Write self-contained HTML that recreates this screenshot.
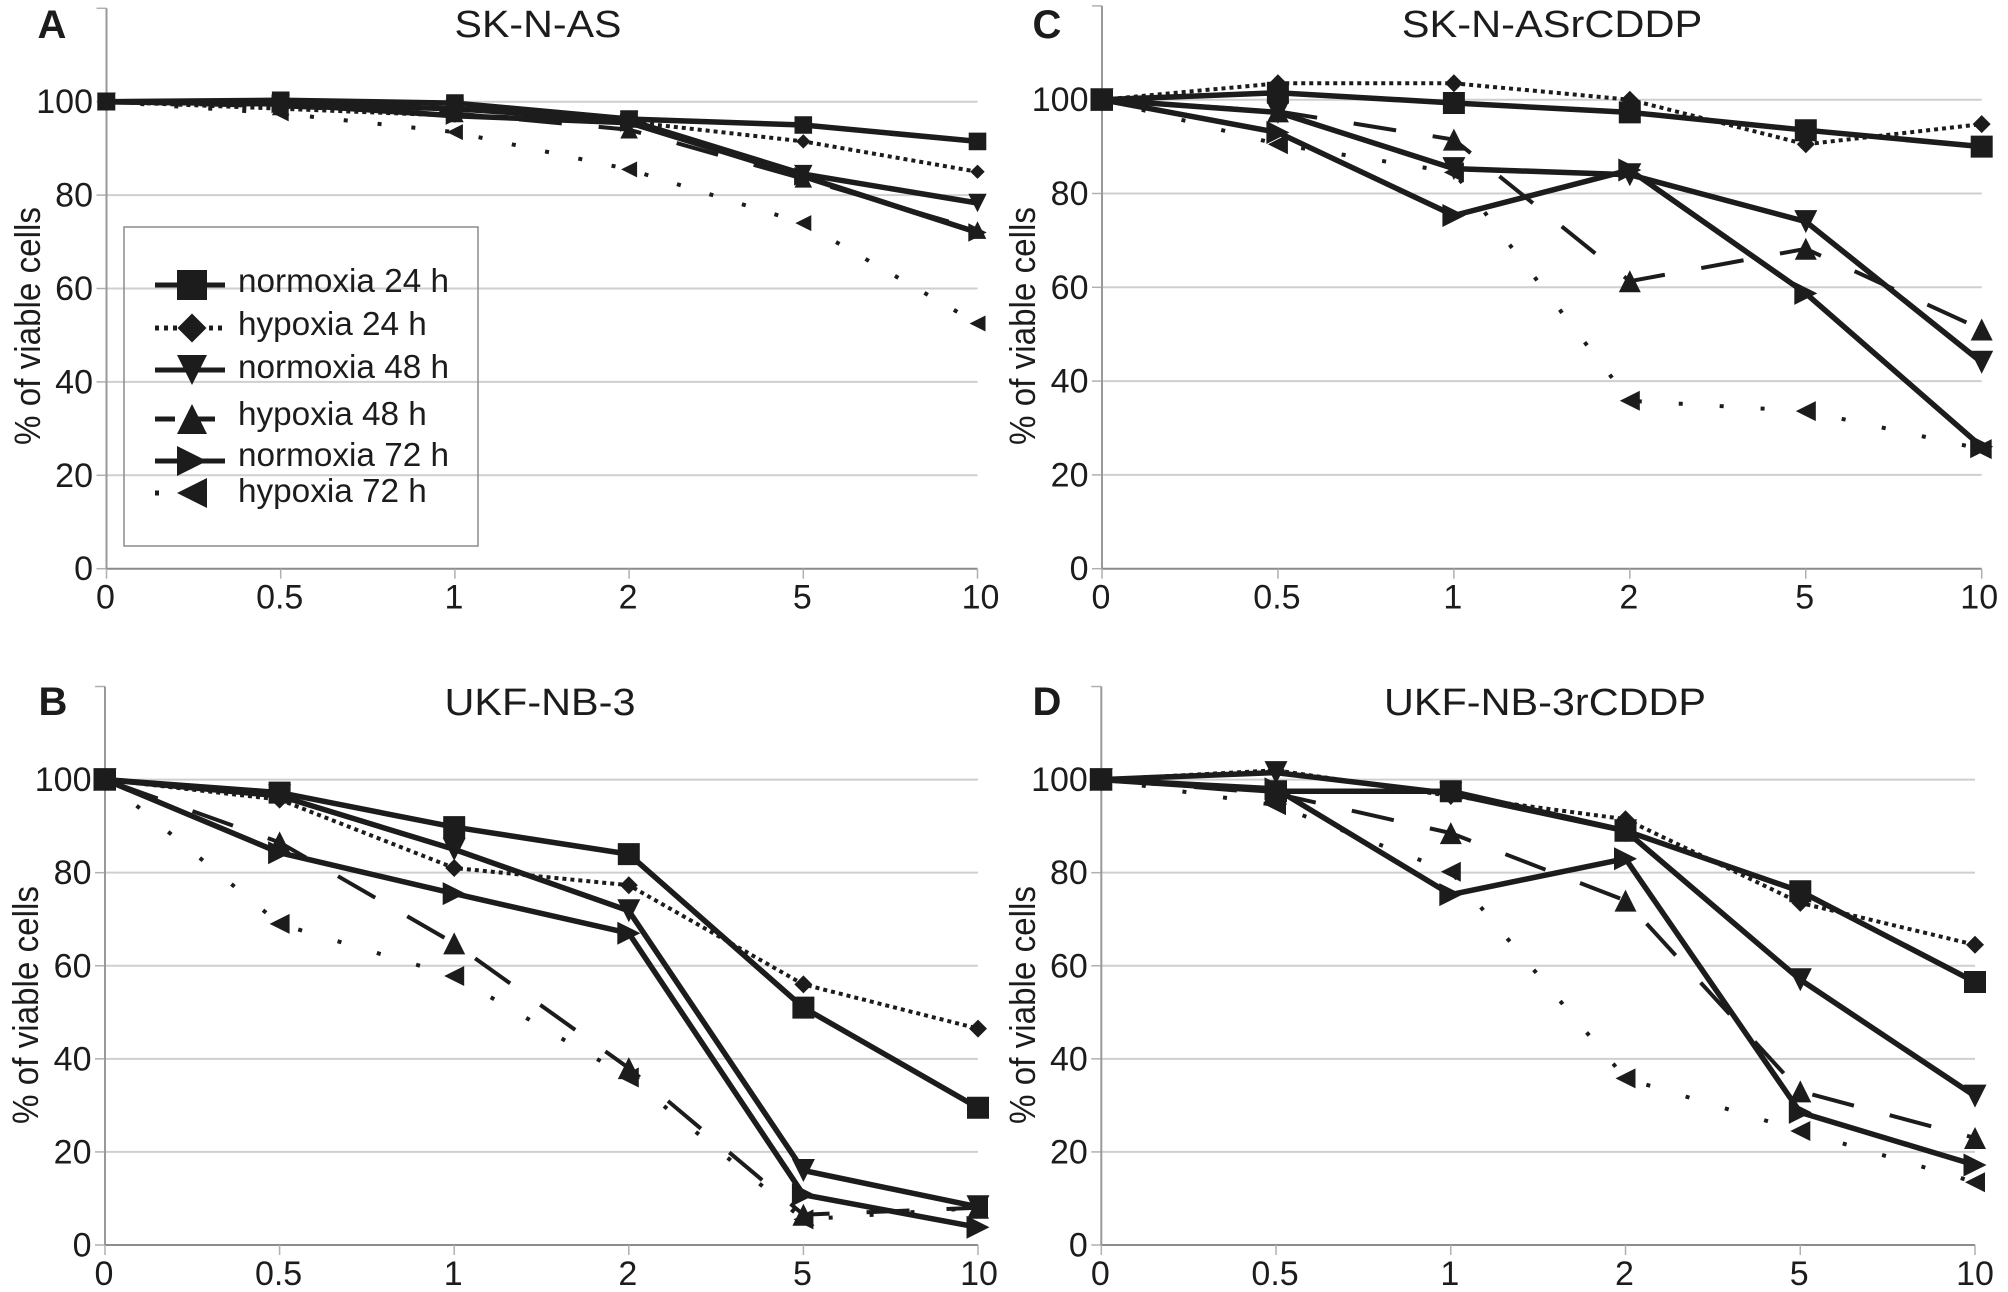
<!DOCTYPE html>
<html lang="en">
<head>
<meta charset="utf-8">
<title>Viability of neuroblastoma cell lines under normoxia and hypoxia</title>
<style>
html,body{margin:0;padding:0;background:#fff;}
svg{display:block;}
text{font-family:"Liberation Sans",sans-serif;fill:#1c1c1c;}
</style>
</head>
<body>
<svg id="figure" xmlns="http://www.w3.org/2000/svg" width="2008" height="1292" viewBox="0 0 2008 1292"></svg>
<script>
const categories = ['0', '0.5', '1', '2', '5', '10'];
const yTickLabels = [0, 20, 40, 60, 80, 100];
const yAxisMax = [120];
const seriesNames = ['normoxia 24 h', 'hypoxia 24 h', 'normoxia 48 h', 'hypoxia 48 h', 'normoxia 72 h', 'hypoxia 72 h'];

const panelA_normoxia24 = [100, 100.3, 99.7, 96.3, 95, 91.5];
const panelA_hypoxia24 = [100, 98.5, 97, 95.7, 91.5, 85];
const panelA_normoxia48 = [100, 99.5, 98.5, 96, 84.5, 78.3];
const panelA_hypoxia48 = [100, 99, 97.5, 94, 83.5, 72.5];
const panelA_normoxia72 = [100, 99.5, 97, 95.5, 84, 72];
const panelA_hypoxia72 = [100, 97.5, 93.5, 85.5, 74, 52.5];

const panelB_normoxia24 = [100, 97.2, 89.8, 84, 51, 29.5];
const panelB_hypoxia24 = [100, 95.7, 81, 77.3, 56, 46.5];
const panelB_normoxia48 = [100, 96.5, 85, 71.8, 16, 8.2];
const panelB_hypoxia48 = [100, 86.5, 64.8, 38, 6.5, 8];
const panelB_normoxia72 = [100, 84.3, 75.5, 67, 10.8, 3.8];
const panelB_hypoxia72 = [100, 69, 57.8, 36, 5.5, 8];

const panelC_normoxia24 = [100, 101.5, 99.3, 97.3, 93.5, 90];
const panelC_hypoxia24 = [100, 103.5, 103.5, 100, 90.5, 94.8];
const panelC_normoxia48 = [100, 97.3, 85.3, 84, 74, 44];
const panelC_hypoxia48 = [100, 97.5, 91.5, 61.3, 68.2, 51];
const panelC_normoxia72 = [100, 93, 75.3, 85, 58.7, 26];
const panelC_hypoxia72 = [100, 90.5, 84.5, 35.8, 33.6, 25.5];

const panelD_normoxia24 = [100, 97.5, 97.5, 89, 76, 56.5];
const panelD_hypoxia24 = [100, 102, 96.5, 91.5, 73.5, 64.5];
const panelD_normoxia48 = [100, 101.5, 97, 89, 57, 32];
const panelD_hypoxia48 = [100, 97, 88.5, 74, 33, 23];
const panelD_normoxia72 = [100, 98, 75.3, 83, 28.5, 17.2];
const panelD_hypoxia72 = [100, 94.5, 80.2, 35.8, 24.5, 13.5];

const svg = document.getElementById('figure');
const NS = 'http://www.w3.org/2000/svg';
const INK = '#1c1c1c';

const seriesStyles = [
  {slug: 'normoxia-24h', marker: 'square', size: 22, width: 5.5, dash: '', offset: 0},
  {slug: 'hypoxia-24h', marker: 'diamond', size: 18, width: 4, dash: '4 4', offset: 0},
  {slug: 'normoxia-48h', marker: 'down', size: 23, width: 5.5, dash: '', offset: 0},
  {slug: 'hypoxia-48h', marker: 'up', size: 22, width: 4, dash: '43 37', offset: 67},
  {slug: 'normoxia-72h', marker: 'right', size: 23, width: 5.5, dash: '', offset: 0},
  {slug: 'hypoxia-72h', marker: 'left', size: 20, width: 4, dash: 'sparse', offset: 0}
];

const panels = [
  {slug: 'a', letter: 'A', title: 'SK-N-AS', titleWidth: 167, left: 106.5, right: 977.5, base: 568.7, full: 101.7, titleX: 538, titleY: 37, letterX: 52, letterY: 38, axisTitleX: 40, axisTitleY: 326, lastLabelShift: 3, markerScale: 0.8, sparseDash: '4 30',
   series: [panelA_normoxia24, panelA_hypoxia24, panelA_normoxia48, panelA_hypoxia48, panelA_normoxia72, panelA_hypoxia72]},
  {slug: 'c', letter: 'C', title: 'SK-N-ASrCDDP', titleWidth: 300.5, left: 1102, right: 1981.7, base: 568.7, full: 99.7, titleX: 1552, titleY: 37, letterX: 1047, letterY: 38, axisTitleX: 1035, axisTitleY: 326, lastLabelShift: -2.5, markerScale: 1, sparseDash: '4 37',
   series: [panelC_normoxia24, panelC_hypoxia24, panelC_normoxia48, panelC_hypoxia48, panelC_normoxia72, panelC_hypoxia72]},
  {slug: 'b', letter: 'B', title: 'UKF-NB-3', titleWidth: 191, left: 105, right: 978, base: 1245, full: 779.6, titleX: 540, titleY: 715, letterX: 53, letterY: 715, axisTitleX: 38, axisTitleY: 1005, lastLabelShift: 1, markerScale: 1, sparseDash: '4 37',
   series: [panelB_normoxia24, panelB_hypoxia24, panelB_normoxia48, panelB_hypoxia48, panelB_normoxia72, panelB_hypoxia72]},
  {slug: 'd', letter: 'D', title: 'UKF-NB-3rCDDP', titleWidth: 322, left: 1101.3, right: 1975, base: 1245, full: 779.6, titleX: 1545, titleY: 715, letterX: 1047, letterY: 715, axisTitleX: 1035, axisTitleY: 1005, lastLabelShift: 0, markerScale: 1, sparseDash: '4 37',
   series: [panelD_normoxia24, panelD_hypoxia24, panelD_normoxia48, panelD_hypoxia48, panelD_normoxia72, panelD_hypoxia72]}
];

function make(tag, parent, attrs) {
  const el = document.createElementNS(NS, tag);
  for (const key in attrs) el.setAttribute(key, attrs[key]);
  parent.appendChild(el);
  return el;
}

function markerPoints(kind, cx, cy, size) {
  const h = size / 2;
  if (kind === 'square') return [[cx - h, cy - h], [cx + h, cy - h], [cx + h, cy + h], [cx - h, cy + h]];
  if (kind === 'diamond') return [[cx, cy - h], [cx + h, cy], [cx, cy + h], [cx - h, cy]];
  if (kind === 'down') return [[cx - h, cy - h], [cx + h, cy - h], [cx, cy + h]];
  if (kind === 'up') return [[cx - h, cy + h], [cx + h, cy + h], [cx, cy - h]];
  if (kind === 'right') return [[cx - h, cy - h], [cx + h, cy], [cx - h, cy + h]];
  return [[cx + h, cy - h], [cx - h, cy], [cx + h, cy + h]];
}

function pointsAttr(points) {
  return points.map(function (p) { return p[0].toFixed(1) + ',' + p[1].toFixed(1); }).join(' ');
}

function drawPanel(panel) {
  const xScale = function (i) { return panel.left + i * (panel.right - panel.left) / (categories.length - 1); };
  const yScale = function (v) { return panel.base - v * (panel.base - panel.full) / 100; };

  const group = make('g', svg, {});
  
  

  yTickLabels.forEach(function (tick) {
    const y = yScale(tick);
    if (tick > 0) {
      const grid = make('line', group, {x1: panel.left, x2: panel.right, y1: y, y2: y, stroke: '#cfcfcf', 'stroke-width': 2});
      
      
    }
    const yTick = make('line', group, {x1: panel.left - 10, x2: panel.left, y1: y, y2: y, stroke: '#b0b0b0', 'stroke-width': 1.5});
    
    
    const yLabel = make('text', group, {x: panel.left - 13.5, y: y + 11.5, 'text-anchor': 'end', 'font-size': 34});
    yLabel.textContent = tick;
    
    
  });

  const topTick = make('line', group, {x1: panel.left - 10, x2: panel.left, y1: yScale(yAxisMax[0]), y2: yScale(yAxisMax[0]), stroke: '#b0b0b0', 'stroke-width': 1.5});
  
  

  const yAxis = make('line', group, {x1: panel.left, x2: panel.left, y1: yScale(yAxisMax[0]), y2: yScale(0), stroke: '#999999', 'stroke-width': 2});
  
  

  const xAxis = make('line', group, {x1: panel.left, x2: panel.right, y1: yScale(0), y2: yScale(0), stroke: '#8c8c8c', 'stroke-width': 2});
  
  

  categories.forEach(function (cat, i) {
    const x = xScale(i);
    const xTick = make('line', group, {x1: x, x2: x, y1: yScale(0), y2: yScale(0) + 10, stroke: '#b0b0b0', 'stroke-width': 1.5});
    
    
    const shift = i === categories.length - 1 ? panel.lastLabelShift : -1;
    const xLabel = make('text', group, {x: x + shift, y: yScale(0) + 40, 'text-anchor': 'middle', 'font-size': 34});
    xLabel.textContent = cat;
    
    
  });

  const axisTitle = make('text', group, {x: panel.axisTitleX, y: panel.axisTitleY, 'text-anchor': 'middle', 'font-size': 36, textLength: 238, lengthAdjust: 'spacingAndGlyphs', transform: 'rotate(-90 ' + panel.axisTitleX + ' ' + panel.axisTitleY + ')'});
  axisTitle.textContent = '% of viable cells';
  
  

  const title = make('text', group, {x: panel.titleX, y: panel.titleY, 'text-anchor': 'middle', 'font-size': 38, textLength: panel.titleWidth, lengthAdjust: 'spacingAndGlyphs'});
  title.textContent = panel.title;
  
  

  const letter = make('text', group, {x: panel.letterX, y: panel.letterY, 'text-anchor': 'middle', 'font-size': 40, 'font-weight': 'bold'});
  letter.textContent = panel.letter;
  
  

  for (let s = panel.series.length - 1; s >= 0; s--) {
    const style = seriesStyles[s];
    const values = panel.series[s];
    const seriesGroup = make('g', group, {});
    
    

    const linePoints = values.map(function (v, i) { return [xScale(i), yScale(v)]; });
    const dash = style.dash === 'sparse' ? panel.sparseDash : (style.dash || 'none');
    const line = make('polyline', seriesGroup, {points: pointsAttr(linePoints), fill: 'none', stroke: INK, 'stroke-width': style.width, 'stroke-linejoin': 'miter', 'stroke-dasharray': dash, 'stroke-dashoffset': style.offset});
    
    

    values.forEach(function (v, i) {
      const marker = make('polygon', seriesGroup, {points: pointsAttr(markerPoints(style.marker, xScale(i), yScale(v), style.size * panel.markerScale)), fill: INK});
      
      
    });
  }
}

function drawLegend() {
  const legend = make('g', svg, {});
  
  

  const box = make('rect', legend, {x: 124, y: 227, width: 354, height: 319, fill: 'none', stroke: '#8c8c8c', 'stroke-width': 1.5});
  
  

  const rowLineY = [285, 328, 370, 419, 461, 493];
  const rowTextY = [292, 335, 378, 425, 466, 502];
  const legendDash = ['', '4 5', '', '20 20 20', '', '4 84 4'];
  const legendMarkerSize = [30, 29, 30, 30, 30, 30];

  seriesNames.forEach(function (name, s) {
    const style = seriesStyles[s];
    const entry = make('g', legend, {});
    
    

    const sample = make('line', entry, {x1: 155, x2: 225, y1: rowLineY[s], y2: rowLineY[s], stroke: INK, 'stroke-width': 5, 'stroke-dasharray': legendDash[s] || 'none'});
    
    

    const swatch = make('polygon', entry, {points: pointsAttr(markerPoints(style.marker, 192, rowLineY[s], legendMarkerSize[s])), fill: INK});
    
    

    const label = make('text', entry, {x: 238, y: rowTextY[s], 'font-size': 33.3});
    label.textContent = name;
    
    
  });
}

panels.forEach(drawPanel);
drawLegend();
</script>
</body>
</html>
